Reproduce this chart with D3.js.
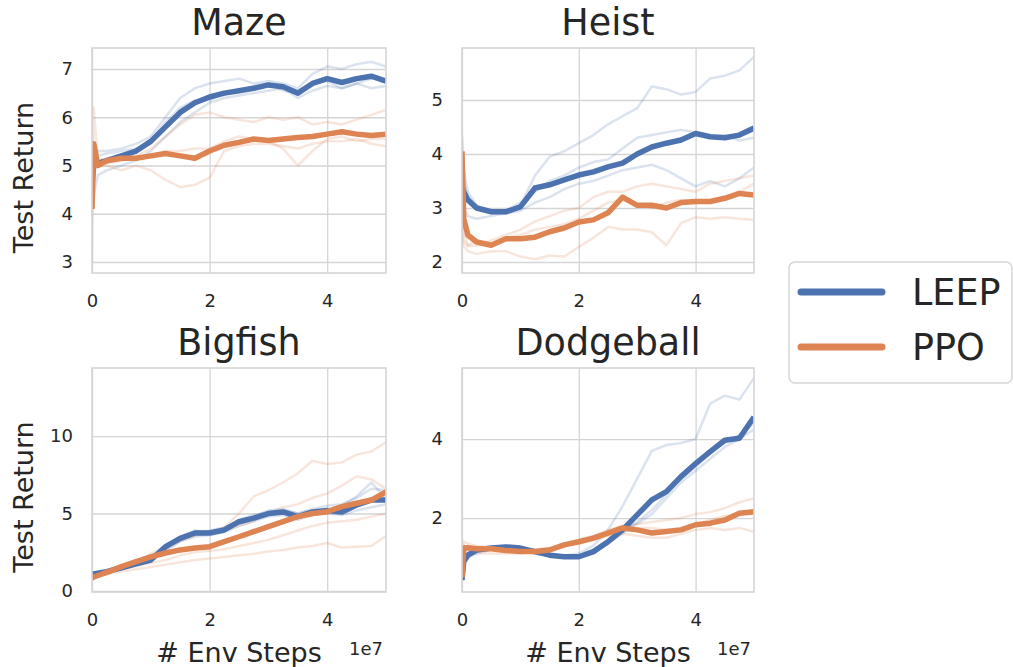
<!DOCTYPE html>
<html>
<head>
<meta charset="utf-8">
<script src="https://cdn.jsdelivr.net/npm/d3@7"></script>
<style>
  body { margin: 0; background: #fff; }
  text { font-family: "DejaVu Sans", sans-serif; fill: #262626; }
</style>
</head>
<body>
<script>
// env steps, in units of 1e7
const steps = [0, 0.03, 0.1, 0.25, 0.5, 0.75, 1.0, 1.25, 1.5, 1.75, 2.0, 2.25, 2.5, 2.75, 3.0, 3.25, 3.5, 3.75, 4.0, 4.25, 4.5, 4.75, 5.0];
const xTicks = [0, 2, 4];
const methods = ["LEEP", "PPO"];

// Maze
const mazeLeep = [4.6, 5.0, 5.05, 5.1, 5.2, 5.3, 5.5, 5.8, 6.1, 6.3, 6.42, 6.5, 6.55, 6.6, 6.67, 6.63, 6.5, 6.7, 6.8, 6.72, 6.8, 6.85, 6.75];
const mazePpo = [4.1, 5.45, 5.0, 5.1, 5.15, 5.15, 5.2, 5.25, 5.2, 5.15, 5.3, 5.42, 5.48, 5.55, 5.52, 5.55, 5.58, 5.6, 5.65, 5.7, 5.65, 5.62, 5.65];
const mazeLeepRuns = [
  [4.5, 5.2, 5.3, 5.3, 5.35, 5.45, 5.6, 6.0, 6.4, 6.6, 6.7, 6.75, 6.8, 6.7, 6.75, 6.7, 6.6, 6.9, 7.05, 7.0, 7.1, 7.15, 7.05],
  [4.2, 4.4, 4.8, 4.9, 5.0, 5.1, 5.3, 5.6, 5.9, 6.1, 6.3, 6.4, 6.45, 6.5, 6.55, 6.6, 6.4, 6.55, 6.65, 6.6, 6.7, 6.6, 6.65],
  [5.0, 5.3, 5.2, 5.25, 5.3, 5.35, 5.5, 5.9, 6.2, 6.35, 6.35, 6.5, 6.55, 6.65, 6.7, 6.55, 6.5, 6.7, 6.75, 6.6, 6.7, 6.8, 6.8]
];
const mazePpoRuns = [
  [3.0, 6.2, 5.1, 5.05, 5.1, 5.2, 5.35, 5.6, 5.85, 6.05, 6.1, 6.0, 5.95, 5.9, 6.0, 5.95, 6.0, 5.85, 5.9, 5.85, 5.95, 6.05, 6.15],
  [4.0, 5.3, 5.0, 5.0, 4.9, 5.0, 4.9, 4.7, 4.55, 4.6, 4.75, 5.3, 5.4, 5.45, 5.45, 5.4, 5.35, 5.45, 5.5, 5.5, 5.55, 5.45, 5.4],
  [5.5, 5.0, 5.1, 5.15, 5.2, 5.15, 5.2, 5.3, 5.3, 5.35, 5.35, 5.5, 5.6, 5.55, 5.5, 5.35, 5.0, 5.3, 5.55, 5.6, 5.5, 5.55, 5.55]
];

// Heist
const heistLeep = [3.4, 3.3, 3.15, 3.0, 2.93, 2.93, 3.02, 3.37, 3.43, 3.52, 3.61, 3.67, 3.76, 3.83, 4.0, 4.13, 4.2, 4.26, 4.38, 4.32, 4.3, 4.35, 4.48];
const heistPpo = [4.05, 2.8, 2.5, 2.37, 2.31, 2.43, 2.43, 2.46, 2.56, 2.63, 2.74, 2.78, 2.91, 3.2, 3.05, 3.05, 3.0, 3.1, 3.12, 3.12, 3.18, 3.27, 3.24];
const heistLeepRuns = [
  [4.35, 3.7, 3.3, 3.05, 2.9, 2.9, 3.05, 3.6, 3.95, 4.05, 4.2, 4.35, 4.55, 4.7, 4.85, 5.25, 5.2, 5.1, 5.15, 5.4, 5.45, 5.55, 5.8],
  [3.8, 3.5, 3.2, 3.0, 2.95, 2.95, 3.1, 3.3, 3.5, 3.6, 3.75, 3.85, 3.9, 4.1, 4.3, 4.35, 4.4, 4.45, 4.4, 4.3, 4.35, 4.25, 4.3],
  [3.2, 3.0, 2.85, 2.8, 2.85, 2.9, 2.95, 3.1, 3.2, 3.35, 3.45, 3.5, 3.6, 3.7, 3.75, 3.8, 3.7, 3.55, 3.4, 3.5, 3.4, 3.55, 3.75]
];
const heistPpoRuns = [
  [3.3, 2.6, 2.3, 2.3, 2.4, 2.5, 2.6, 2.75, 2.85, 2.95, 3.0, 3.2, 3.3, 3.3, 3.4, 3.45, 3.4, 3.35, 3.3, 3.45, 3.5, 3.55, 3.6],
  [2.5, 2.3, 2.2, 2.15, 2.2, 2.2, 2.1, 2.05, 2.12, 2.1, 2.28, 2.45, 2.65, 2.6, 2.6, 2.55, 2.31, 2.72, 2.83, 2.8, 2.83, 2.8, 2.78],
  [2.8, 2.4, 2.3, 2.4, 2.35, 2.45, 2.5, 2.6, 2.65, 2.7, 2.8, 2.95, 3.1, 3.15, 3.05, 3.0, 3.1, 3.15, 3.1, 3.1, 3.2, 3.3, 3.45]
];

// Bigfish
const bigfishLeep = [1.1, 1.1, 1.15, 1.25, 1.5, 1.75, 2.0, 2.86, 3.4, 3.74, 3.74, 3.94, 4.47, 4.7, 5.0, 5.1, 4.8, 5.1, 5.2, 5.1, 5.55, 5.87, 5.87];
const bigfishPpo = [0.84, 0.9, 1.0, 1.2, 1.57, 1.9, 2.2, 2.45, 2.65, 2.77, 2.86, 3.18, 3.5, 3.83, 4.15, 4.47, 4.8, 5.0, 5.12, 5.44, 5.66, 5.87, 6.4];
const bigfishLeepRuns = [
  [1.2, 1.1, 1.2, 1.3, 1.5, 1.7, 2.1, 2.7, 3.4, 3.8, 3.9, 4.1, 4.5, 4.8, 5.2, 5.3, 5.0, 5.3, 5.5, 5.6, 6.0, 6.6, 6.5],
  [1.0, 1.0, 1.1, 1.2, 1.4, 1.7, 2.0, 2.6, 3.2, 3.5, 3.6, 3.8, 4.2, 4.5, 4.8, 4.9, 4.6, 4.9, 5.0, 4.9, 5.2, 5.4, 5.6],
  [1.1, 1.1, 1.2, 1.3, 1.6, 1.8, 2.0, 2.9, 3.5, 3.9, 3.8, 4.0, 4.6, 4.9, 5.1, 5.2, 5.0, 5.2, 5.2, 5.5, 6.1, 7.0, 6.0]
];
const bigfishPpoRuns = [
  [0.9, 1.0, 1.1, 1.3, 1.6, 1.9, 2.3, 2.7, 3.2, 3.6, 3.8, 4.1, 5.0, 6.1, 6.5, 7.0, 7.6, 8.4, 8.2, 8.3, 8.8, 9.0, 9.6],
  [0.9, 1.0, 1.1, 1.3, 1.6, 1.9, 2.4, 2.9, 3.3, 3.6, 3.7, 3.9, 4.2, 4.5, 5.0, 5.4, 5.6, 6.0, 6.3, 6.8, 7.4, 7.2, 6.6],
  [0.9, 1.0, 1.1, 1.2, 1.4, 1.6, 1.8, 2.0, 2.3, 2.5, 2.6, 2.7, 2.9, 3.1, 3.3, 3.6, 3.9, 4.2, 4.4, 4.5, 4.6, 4.8, 5.0],
  [0.9, 1.0, 1.05, 1.1, 1.25, 1.4, 1.55, 1.7, 1.85, 2.0, 2.1, 2.2, 2.3, 2.4, 2.55, 2.65, 2.8, 2.9, 3.1, 2.8, 2.85, 2.9, 3.55]
];

// Dodgeball
const dodgeballLeep = [0.43, 0.9, 1.06, 1.19, 1.24, 1.27, 1.24, 1.15, 1.06, 1.02, 1.02, 1.15, 1.4, 1.7, 2.08, 2.46, 2.67, 3.05, 3.38, 3.68, 3.97, 4.02, 4.56];
const dodgeballPpo = [0.5, 1.24, 1.25, 1.22, 1.22, 1.18, 1.15, 1.15, 1.19, 1.32, 1.4, 1.49, 1.62, 1.75, 1.7, 1.62, 1.66, 1.7, 1.83, 1.87, 1.95, 2.12, 2.16];
const dodgeballLeepRuns = [
  [0.4, 1.0, 1.1, 1.2, 1.25, 1.3, 1.2, 1.15, 1.05, 1.05, 1.1, 1.3, 1.7, 2.3, 3.0, 3.7, 3.85, 3.9, 4.0, 4.9, 5.1, 5.0, 5.55],
  [0.5, 1.0, 1.1, 1.15, 1.2, 1.25, 1.2, 1.1, 1.05, 1.0, 1.0, 1.1, 1.35, 1.6, 1.9, 2.2, 2.6, 3.0, 3.3, 3.7, 3.9, 4.1, 4.4],
  [0.4, 0.9, 1.0, 1.1, 1.2, 1.25, 1.25, 1.15, 1.1, 1.0, 1.05, 1.2, 1.4, 1.7, 1.85, 2.1, 2.5, 2.9, 3.2, 3.5, 3.8, 4.0, 4.25]
];
const dodgeballPpoRuns = [
  [0.5, 1.4, 1.35, 1.3, 1.25, 1.2, 1.2, 1.2, 1.25, 1.35, 1.45, 1.55, 1.7, 1.8, 1.85, 1.9, 1.95, 2.0, 2.1, 2.15, 2.25, 2.4, 2.5],
  [0.5, 1.1, 1.15, 1.1, 1.1, 1.1, 1.1, 1.15, 1.2, 1.3, 1.35, 1.45, 1.55, 1.6, 1.55, 1.5, 1.5, 1.6, 1.7, 1.75, 1.7, 1.75, 1.65],
  [0.5, 1.3, 1.2, 1.2, 1.25, 1.2, 1.15, 1.1, 1.15, 1.3, 1.4, 1.5, 1.6, 1.7, 1.75, 1.75, 1.7, 1.75, 1.85, 1.95, 2.05, 2.1, 2.1]
];

const panels = [
  {title: "Maze", leep: mazeLeep, ppo: mazePpo, leepRuns: mazeLeepRuns, ppoRuns: mazePpoRuns,
   yDomain: [2.772, 7.435], yTicks: [3, 4, 5, 6, 7], x: 92, y: 48, w: 294, h: 225, ylabel: true, xlabel: false},
  {title: "Heist", leep: heistLeep, ppo: heistPpo, leepRuns: heistLeepRuns, ppoRuns: heistPpoRuns,
   yDomain: [1.796, 5.963], yTicks: [2, 3, 4, 5], x: 462, y: 48, w: 292, h: 225, ylabel: false, xlabel: false},
  {title: "Bigfish", leep: bigfishLeep, ppo: bigfishPpo, leepRuns: bigfishLeepRuns, ppoRuns: bigfishPpoRuns,
   yDomain: [-0.065, 14.39], yTicks: [0, 5, 10], x: 92, y: 368, w: 294, h: 224, ylabel: true, xlabel: true},
  {title: "Dodgeball", leep: dodgeballLeep, ppo: dodgeballPpo, leepRuns: dodgeballLeepRuns, ppoRuns: dodgeballPpoRuns,
   yDomain: [0.127, 5.80], yTicks: [2, 4], x: 462, y: 368, w: 292, h: 224, ylabel: false, xlabel: true}
];

const colors = {LEEP: "#4c72b0", PPO: "#dd8452"};
const gridColor = "#d5d5d5";

const svg = d3.select("body").append("svg")
    .attr("width", 1013)
    .attr("height", 667);

svg.append("rect").attr("width", 1013).attr("height", 667).attr("fill", "#fff");

panels.forEach(p => {
    const g = svg.append("g").attr("transform", `translate(${p.x},${p.y})`);
    const x = d3.scaleLinear().domain([0, 5]).range([0, p.w]);
    const y = d3.scaleLinear().domain(p.yDomain).range([p.h, 0]);

    // grid
    g.append("g")
        .call(d3.axisLeft(y).tickValues(p.yTicks).tickSize(-p.w).tickFormat(""))
        .call(a => a.select(".domain").remove())
        .call(a => a.selectAll("line").attr("stroke", gridColor).attr("stroke-width", 1.3));
    g.append("g")
        .attr("transform", `translate(0,${p.h})`)
        .call(d3.axisBottom(x).tickValues(xTicks).tickSize(-p.h).tickFormat(""))
        .call(a => a.select(".domain").remove())
        .call(a => a.selectAll("line").attr("stroke", gridColor).attr("stroke-width", 1.3));

    // tick labels
    g.append("g")
        .call(d3.axisLeft(y).tickValues(p.yTicks).tickSize(0).tickPadding(19).tickFormat(d3.format("d")))
        .call(a => a.select(".domain").remove())
        .call(a => a.selectAll("text").style("font-size", "18px").attr("fill", "#262626")
            .style("font-family", "DejaVu Sans"));
    g.append("g")
        .attr("transform", `translate(0,${p.h})`)
        .call(d3.axisBottom(x).tickValues(xTicks).tickSize(0).tickPadding(21).tickFormat(d3.format("d")))
        .call(a => a.select(".domain").remove())
        .call(a => a.selectAll("text").style("font-size", "18px").attr("fill", "#262626")
            .style("font-family", "DejaVu Sans"));

    const clipId = "clip-" + p.title;
    g.append("clipPath").attr("id", clipId)
        .append("rect").attr("width", p.w).attr("height", p.h);
    const plot = g.append("g").attr("clip-path", `url(#${clipId})`);

    const line = d3.line()
        .x((d, i) => x(steps[i]))
        .y(d => y(d));

    p.leepRuns.forEach(r => {
        plot.append("path").attr("d", line(r)).attr("fill", "none")
            .attr("stroke", colors.LEEP).attr("stroke-opacity", 0.2).attr("stroke-width", 2.5)
            .attr("stroke-linejoin", "round");
    });
    p.ppoRuns.forEach(r => {
        plot.append("path").attr("d", line(r)).attr("fill", "none")
            .attr("stroke", colors.PPO).attr("stroke-opacity", 0.2).attr("stroke-width", 2.5)
            .attr("stroke-linejoin", "round");
    });
    plot.append("path").attr("d", line(p.leep)).attr("fill", "none")
        .attr("stroke", colors.LEEP).attr("stroke-width", 5.5).attr("stroke-linejoin", "round");
    plot.append("path").attr("d", line(p.ppo)).attr("fill", "none")
        .attr("stroke", colors.PPO).attr("stroke-width", 5.5).attr("stroke-linejoin", "round");

    // frame
    g.append("rect").attr("width", p.w).attr("height", p.h)
        .attr("fill", "none").attr("stroke", gridColor).attr("stroke-width", 1.6);

    g.append("text")
        .attr("x", p.w / 2).attr("y", -13)
        .attr("text-anchor", "middle")
        .style("font-size", "36.5px")
        .text(p.title);

    if (p.ylabel) {
        g.append("text")
            .attr("transform", `translate(${33 - p.x},${p.h / 2 + 17}) rotate(-90)`)
            .attr("text-anchor", "middle")
            .style("font-size", "27px")
            .text("Test Return");
    }
    if (p.xlabel) {
        g.append("text")
            .attr("x", p.w / 2).attr("y", p.h + 70)
            .attr("text-anchor", "middle")
            .style("font-size", "27px")
            .text("# Env Steps");
        g.append("text")
            .attr("x", p.w - 3).attr("y", p.h + 63)
            .attr("text-anchor", "end")
            .style("font-size", "18px")
            .text("1e7");
    }
});

// legend
const legend = svg.append("g").attr("transform", "translate(789,262)");
legend.append("rect")
    .attr("width", 223).attr("height", 121).attr("rx", 6)
    .attr("fill", "#fff").attr("stroke", "#d6d6d6").attr("stroke-width", 1.5);
methods.forEach((m, i) => {
    const ly = 30 + i * 55;
    legend.append("line")
        .attr("x1", 12).attr("x2", 93).attr("y1", ly).attr("y2", ly)
        .attr("stroke", colors[m]).attr("stroke-width", 7).attr("stroke-linecap", "round");
    legend.append("text")
        .attr("x", 123).attr("y", ly + 13)
        .style("font-size", "36.5px")
        .text(m);
});
</script>
</body>
</html>
